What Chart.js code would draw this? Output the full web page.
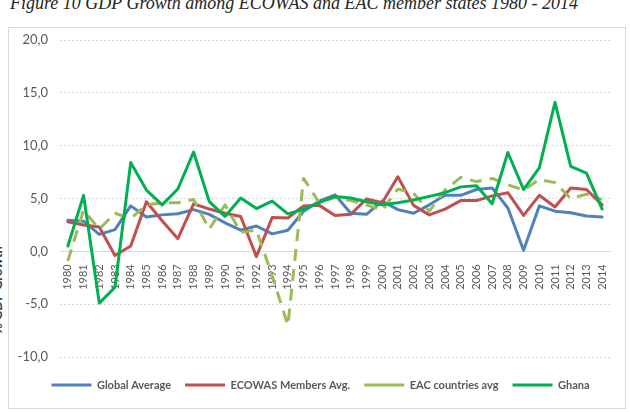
<!DOCTYPE html>
<html>
<head>
<meta charset="utf-8">
<script src="https://cdn.jsdelivr.net/npm/chart.js@4.4.0/dist/chart.umd.min.js"></script>
<style>
    html, body { margin: 0; padding: 0; background: #fff; overflow: hidden; }
    #fig { position: absolute; left: 10px; top: -6px; font: italic 18px/18px 'Liberation Serif', 'Times New Roman', serif; color: #262626; white-space: nowrap; }
    #box { position: absolute; left: 8px; top: 27px; width: 616px; height: 380px; border: 1px solid #d9d9d9; }
    #ytitle { position: absolute; left: -63px; top: 282px; width: 120px; height: 16px; line-height: 16px; text-align: center;
              transform: rotate(-90deg); font: bold 13px Lato, 'Liberation Sans', sans-serif; color: #404040; }
    #chart { position: absolute; left: 0; top: 0; }
</style>
</head>
<body>
<div id="fig">Figure 10 GDP Growth among ECOWAS and EAC member states 1980 - 2014</div>
<div id="box"></div>
<div id="ytitle">% GDP Growth</div>
<canvas id="chart" width="630" height="412"></canvas>
<script>
// years on the x axis
var years = [];
for (var yr = 1980; yr <= 2014; yr++) { years.push(String(yr)); }

// values (% growth)
var globalAvg = [2.95, 2.85, 1.6, 2.05, 4.3, 3.25, 3.45, 3.55, 3.95, 3.5, 2.7, 2.0, 2.4, 1.65, 2.0, 3.8, 4.75, 5.35, 3.6, 3.5,
                 4.75, 3.95, 3.6, 4.4, 5.3, 5.3, 5.85, 6.0, 4.1, 0.1, 4.3, 3.8, 3.65, 3.35, 3.25];
var ecowasAvg = [2.8, 2.5, 2.3, -0.4, 0.5, 4.7, 2.9, 1.2, 4.5, 4.0, 3.6, 3.3, -0.5, 3.2, 3.15, 4.3, 4.35, 3.4, 3.5, 4.95,
                 4.6, 7.05, 4.35, 3.45, 4.0, 4.8, 4.8, 5.25, 5.55, 3.4, 5.3, 4.2, 6.0, 5.85, 4.4];
var eacAvg    = [-0.9, 3.9, 2.1, 3.6, 3.1, 4.4, 4.6, 4.6, 4.9, 2.1, 4.4, 1.8, 2.0, -2.3, -7.0, 6.9, 4.6, 5.1, 4.8, 4.4,
                 3.9, 5.9, 5.5, 3.8, 5.8, 7.0, 6.6, 6.9, 6.3, 5.8, 6.8, 6.5, 5.0, 5.4, 4.9];
var ghana     = [0.5, 5.3, -4.9, -3.4, 8.4, 5.8, 4.4, 5.9, 9.4, 4.7, 3.3, 5.05, 4.05, 4.75, 3.55, 4.0, 4.6, 5.2, 5.05, 4.7,
                 4.4, 4.6, 4.85, 5.2, 5.55, 6.1, 6.2, 4.5, 9.35, 5.85, 7.9, 14.1, 8.05, 7.4, 4.0];

var seriesNames = ["Global Average", "ECOWAS Members Avg.", "EAC countries avg", "Ghana"];

var FONT = "Lato, 'Liberation Sans', Arial, sans-serif";

function line(label, data, color, dash, order) {
    return {
        label: label,
        data: data,
        borderColor: color,
        backgroundColor: color,
        borderWidth: 3,
        borderDash: dash,
        borderJoinStyle: 'round',
        borderCapStyle: dash.length ? 'butt' : 'round',
        pointRadius: 0,
        tension: 0,
        order: order
    };
}

var ctx = document.getElementById('chart').getContext('2d');
var myChart = new Chart(ctx, {
    type: 'line',
    data: {
        labels: years,
        datasets: [
            line(seriesNames[0], globalAvg, '#4f81bd', [], 4),
            line(seriesNames[1], ecowasAvg, '#c0504d', [], 3),
            line(seriesNames[2], eacAvg, '#9bbb59', [12, 8], 2),
            line(seriesNames[3], ghana, '#00b050', [], 1)
        ]
    },
    options: {
        responsive: false,
        animation: false,
        devicePixelRatio: 1,
        layout: { padding: { left: 11, right: 0, top: 40, bottom: 11.5 } },
        plugins: {
            tooltip: { enabled: false },
            legend: {
                position: 'bottom',
                // empty title only pushes the row down a little
                title: { display: true, text: '', font: { size: 1, lineHeight: 1 }, padding: { top: 7.5, bottom: 0 } },
                labels: {
                    usePointStyle: true,
                    pointStyle: 'line',
                    pointStyleWidth: 40,
                    padding: 14,
                    color: '#595959',
                    font: { family: FONT, size: 11, weight: 'bold' },
                    sort: function (a, b) { return a.datasetIndex - b.datasetIndex; }
                }
            }
        },
        scales: {
            x: {
                position: { y: 0 },
                offset: true,
                grid: { display: false },
                border: { display: true, color: '#d9d9d9', width: 1 },
                ticks: {
                    autoSkip: false,
                    minRotation: 90,
                    maxRotation: 90,
                    padding: 5,
                    color: '#595959',
                    font: { family: FONT, size: 11 }
                }
            },
            y: {
                min: -10,
                max: 20,
                afterFit: function (scale) { scale.width = 49; },
                grid: { color: '#d9d9d9', lineWidth: 1, drawTicks: false },
                border: { display: false, dash: [2, 2] },
                ticks: {
                    stepSize: 5,
                    padding: 12,
                    color: '#595959',
                    font: { family: FONT, size: 13 },
                    callback: function (v) { return v.toFixed(1).replace('.', ','); }
                }
            },
            // empty axis on the right, only keeps the plot off the right edge
            yRight: {
                position: 'right',
                grid: { display: false },
                border: { display: false },
                ticks: { display: false },
                afterFit: function (scale) { scale.width = 20; }
            }
        }
    }
});
</script>
</body>
</html>
